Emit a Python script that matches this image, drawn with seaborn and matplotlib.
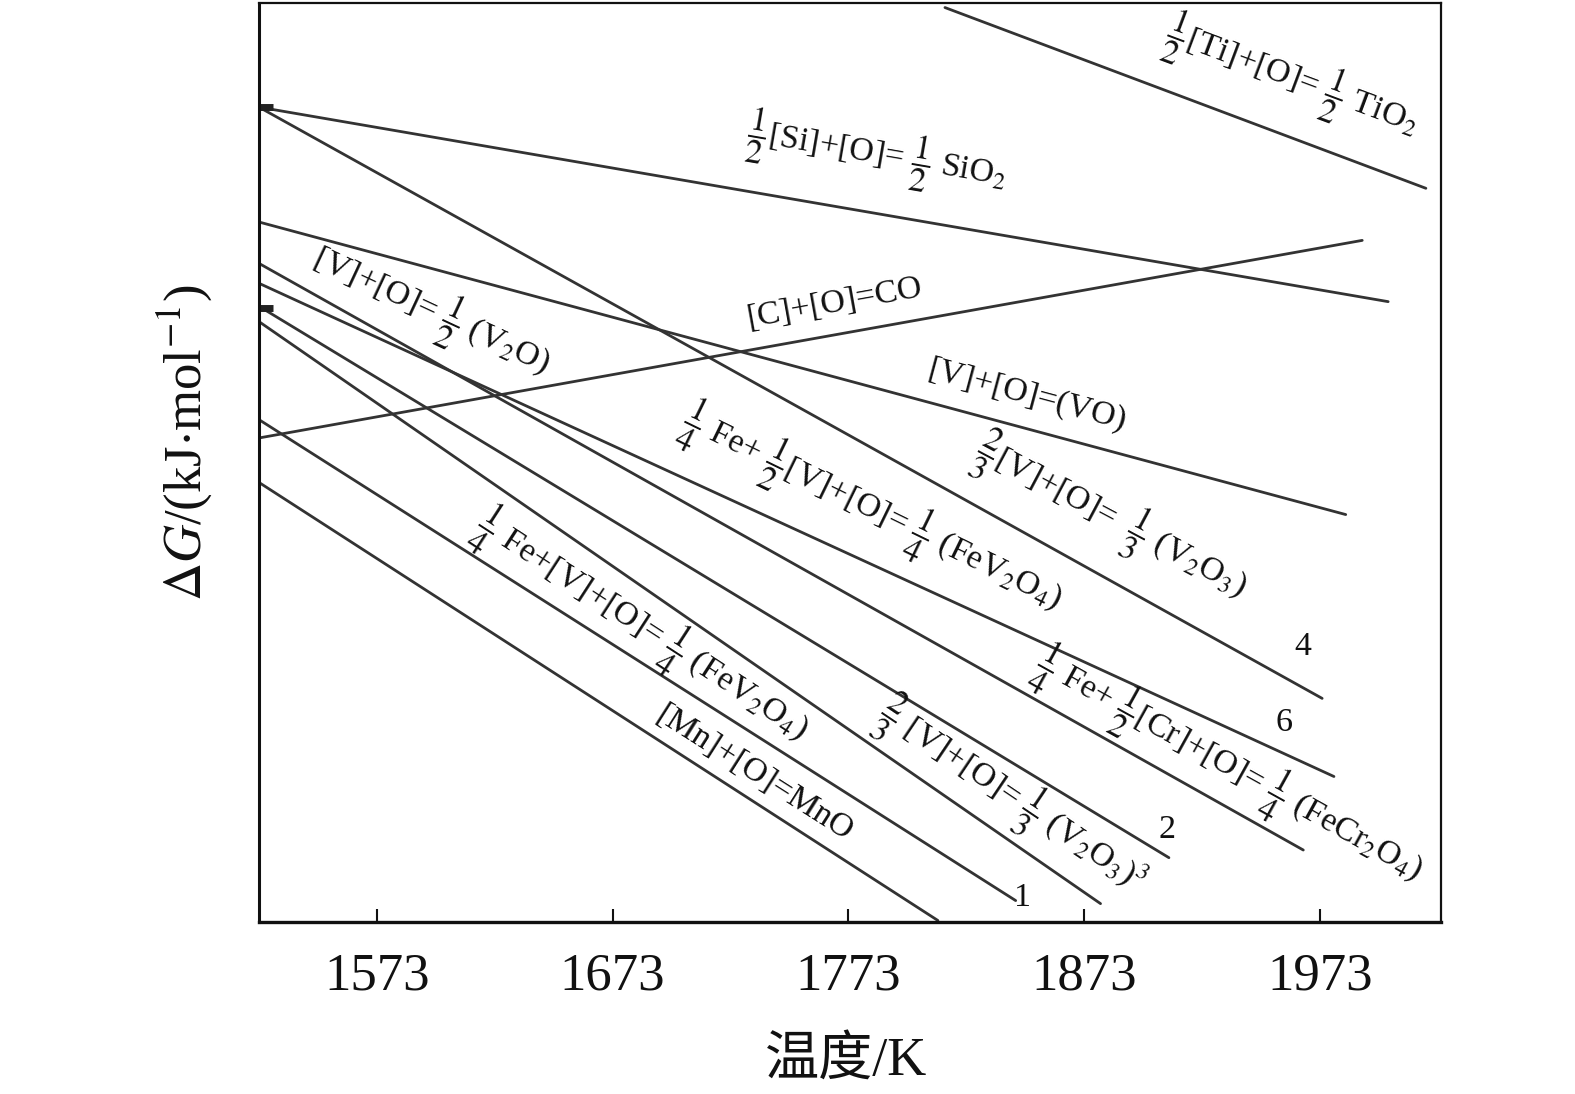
import numpy as np
import pandas as pd
import seaborn as sns
import matplotlib
matplotlib.use("Agg")
import matplotlib.pyplot as plt

# reaction lines (the original y axis has no scale)
reactions = ["Ti", "Si", "C", "VO", "V2O3_4", "FeV2O4_6", "FeCr2O4",
             "V2O_2", "V2O3_3", "FeV2O4_1", "MnO"]
t_start = [1814, 1523, 1523, 1523, 1523, 1523, 1523, 1523, 1523, 1523, 1523]
t_end = [2018, 2002, 1991, 1984, 1974, 1979, 1966, 1909, 1880, 1844, 1811]
g_start = [-103, -168, -384, -243, -168, -283, -270, -298, -308, -372, -413]
g_end = [-221, -295, -255, -434, -554, -605, -653, -658, -688, -686, -699]

# little stubs drawn at the left edge of the original
stub_t = [1523, 1529]
stub_g = [-168, -299]

temp_ticks = [1573, 1673, 1773, 1873, 1973]

# (text, T, dG, rotation)
labels = [
    (r"$\dfrac{1}{2}$[Ti]+[O]= $\dfrac{1}{2}$ TiO$_2$", 1961, -150, -20.5),
    (r"$\dfrac{1}{2}$[Si]+[O]= $\dfrac{1}{2}$ SiO$_2$", 1785, -200, -9.8),
    ("[C]+[O]=CO", 1767, -296, 10.2),
    ("[V]+[O]=(VO)", 1849, -356, -15),
    (r"[V]+[O]= $\dfrac{1}{2}$ (V$_2$O)", 1596, -302, -25),
    (r"$\dfrac{1}{4}$ Fe+ $\dfrac{1}{2}$[V]+[O]= $\dfrac{1}{4}$ (FeV$_2$O$_4$)", 1783, -432, -26),
    (r"$\dfrac{2}{3}$[V]+[O]=  $\dfrac{1}{3}$ (V$_2$O$_3$)", 1884, -437, -28),
    (r"$\dfrac{1}{4}$ Fe+ $\dfrac{1}{2}$[Cr]+[O]= $\dfrac{1}{4}$ (FeCr$_2$O$_4$)", 1934, -600, -29),
    (r"$\dfrac{1}{4}$ Fe+[V]+[O]= $\dfrac{1}{4}$ (FeV$_2$O$_4$)", 1685, -508, -33),
    ("[Mn]+[O]=MnO", 1733, -603, -32.5),
    (r"$\dfrac{2}{3}$ [V]+[O]= $\dfrac{1}{3}$ (V$_2$O$_3$)$^3$", 1842, -619, -34),
]
num_labels = [("4", 1966, -520), ("6", 1958, -570), ("2", 1908, -640), ("1", 1847, -684)]

sns.set_style("white")
plt.rcParams["font.family"] = ["Liberation Serif", "Noto Sans CJK SC"]
plt.rcParams["mathtext.fontset"] = "stix"

df = pd.DataFrame({
    "reaction": np.repeat(reactions, 2),
    "T": np.ravel(np.column_stack([t_start, t_end])),
    "dG": np.ravel(np.column_stack([g_start, g_end])),
})

fig = plt.figure(figsize=(15.75, 10.94), dpi=100)
ax = fig.add_axes([0.1644, 0.1572, 0.7505, 0.8401])

sns.lineplot(data=df, x="T", y="dG", units="reaction", estimator=None,
             sort=False, color="#333333", lw=2.0, ax=ax)
for g in stub_g:
    ax.plot(stub_t, [g, g], color="#222222", lw=5, solid_capstyle="butt")

for text, t, g, rot in labels:
    ax.text(t, g, text, fontsize=24.5, rotation=rot, rotation_mode="anchor",
            ha="center", va="center", color="#111111")
for text, t, g in num_labels:
    ax.text(t, g, text, fontsize=24.5, ha="center", va="center", color="#111111")

ax.set_xlim(1523, 2024.4)
ax.set_ylim(-700, -100)
ax.set_xticks(temp_ticks)
ax.set_xticklabels([str(t) for t in temp_ticks], fontsize=38)
ax.set_yticks([])
ax.tick_params(axis="x", direction="in", length=9.5, width=1.5, pad=22,
               colors="#111111", bottom=True)

for side, lw in [("left", 2.2), ("bottom", 2.4), ("top", 1.6), ("right", 1.6)]:
    ax.spines[side].set_visible(True)
    ax.spines[side].set_linewidth(lw)
    ax.spines[side].set_color("#111111")

ax.set_xlabel("温度/K", fontsize=39, color="#111111")
ax.set_ylabel(r"$\Delta G$/(kJ$\cdot$mol$^{-1}$)", fontsize=38, color="#111111")
ax.xaxis.set_label_coords(0.4966, -0.124)
ax.yaxis.set_label_coords(-0.038, 0.522)

fig.savefig("out.png", dpi=100)
